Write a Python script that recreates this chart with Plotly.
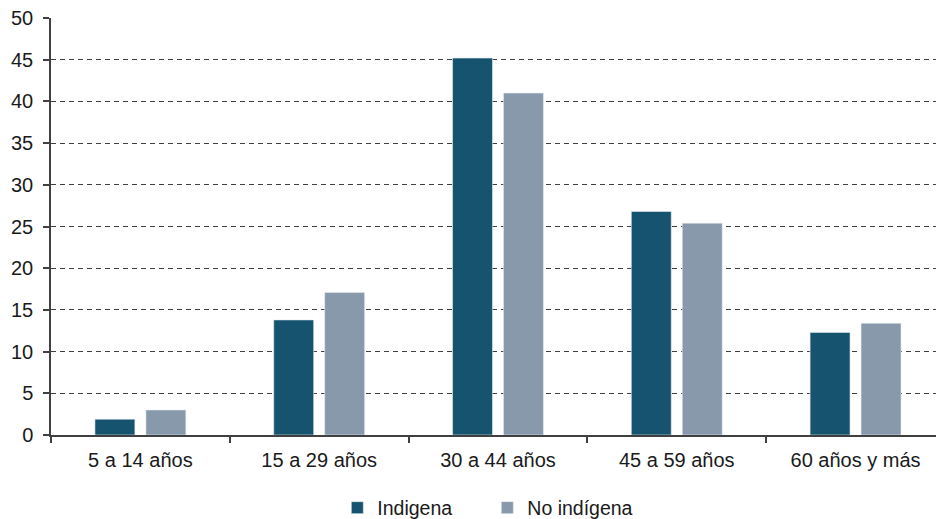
import plotly.graph_objects as go

categories = ["5 a 14 años", "15 a 29 años", "30 a 44 años", "45 a 59 años", "60 años y más"]
indigena = [1.9, 13.8, 45.2, 26.8, 12.3]
no_indigena = [3.0, 17.1, 41.0, 25.4, 13.4]
y_ticks = [0, 5, 10, 15, 20, 25, 30, 35, 40, 45, 50]

FONT = "Liberation Sans, Arial, sans-serif"

fig = go.Figure()
fig.add_trace(go.Bar(name="Indigena", x=categories, y=indigena,
                     marker=dict(color="#15536F", line=dict(color="#E6ECF0", width=0.6))))
fig.add_trace(go.Bar(name="No indígena", x=categories, y=no_indigena,
                     marker=dict(color="#8799AB", line=dict(color="#E6ECF0", width=0.6))))

fig.update_layout(
    width=936, height=519,
    margin=dict(l=51, r=0, t=18, b=84, autoexpand=False),
    barmode="group", bargap=0.43, bargroupgap=0.216,
    plot_bgcolor="white", paper_bgcolor="white",
    font=dict(family=FONT, size=20, color="#1a1a1a"),
    showlegend=True,
    legend=dict(orientation="h", x=0.493, xanchor="center", y=-0.175, yanchor="middle",
                font=dict(size=19.5), entrywidth=105, itemwidth=30, traceorder="normal"),
)
fig.update_xaxes(
    automargin=False, range=[-0.5, 4.45],
    showline=True, linecolor="#404040", linewidth=1.5,
    ticks="outside", tickson="boundaries", ticklen=6, tickcolor="#404040", tickwidth=1.5,
    ticklabelstandoff=6,
    showgrid=False, tickfont=dict(size=20),
)
fig.update_yaxes(
    automargin=False, ticklabeloverflow="allow",
    range=[0, 50], tickvals=y_ticks, showline=True, linecolor="#404040", linewidth=1.5,
    ticks="outside", ticklen=6, tickcolor="#404040", tickwidth=1.5,
    ticklabelstandoff=6,
    showgrid=True, gridcolor="#404040", gridwidth=1, griddash="5px,4px",
    zeroline=False, tickfont=dict(size=20),
)

fig.write_html("out.html", config={"displayModeBar": False},
               post_script="document.body.style.margin='0px';document.body.style.overflow='hidden';")
